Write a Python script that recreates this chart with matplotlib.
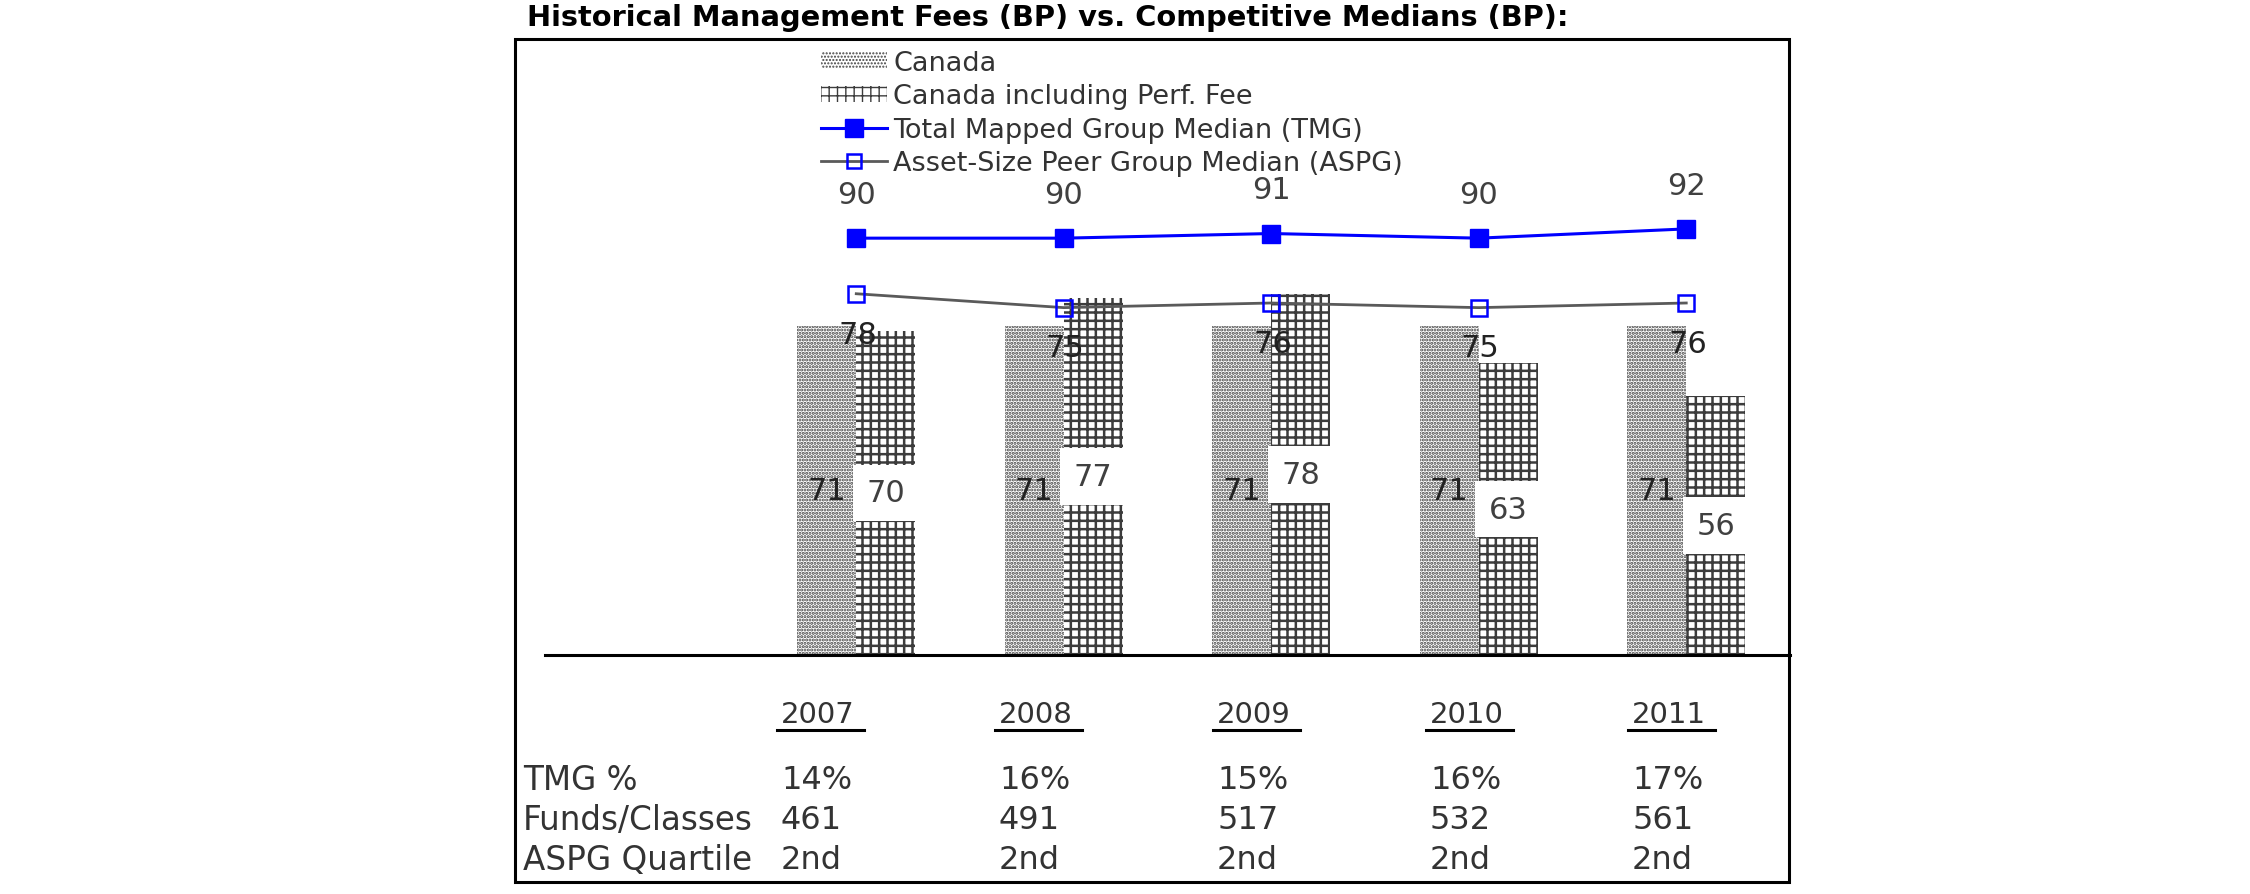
import matplotlib
matplotlib.use("Agg")
import matplotlib.pyplot as plt
from matplotlib.lines import Line2D
from matplotlib.patches import Rectangle, Patch
import numpy as np

# ---------------- data ----------------
years = ["2007", "2008", "2009", "2010", "2011"]
canada = [71, 71, 71, 71, 71]
canada_perf = [70, 77, 78, 63, 56]
tmg_median = [90, 90, 91, 90, 92]
aspg_median = [78, 75, 76, 75, 76]
row_labels = ["TMG %", "Funds/Classes", "ASPG Quartile"]
tmg_pct = ["14%", "16%", "15%", "16%", "17%"]
funds_classes = ["461", "491", "517", "532", "561"]
aspg_quartile = ["2nd", "2nd", "2nd", "2nd", "2nd"]
title = "Historical Management Fees (BP) vs. Competitive Medians (BP):"
legend_labels = ["Canada", "Canada including Perf. Fee",
                 "Total Mapped Group Median (TMG)",
                 "Asset-Size Peer Group Median (ASPG)"]

# ---------------- layout ----------------
W, H = 2250, 895
fig = plt.figure(figsize=(W / 100, H / 100), dpi=100)
fig.patch.set_facecolor("white")

def fx(px):
    return px / W

def fy(py):
    return 1 - py / H

FONT = "DejaVu Sans"
TXT = "#333333"

# outer box
fig.patches.append(Rectangle((fx(515), fy(883)), fx(1789) - fx(515), fy(40) - fy(883),
                             transform=fig.transFigure, fill=False,
                             edgecolor="black", linewidth=2.2, zorder=0))

# title
fig.text(fx(527), fy(18), title, fontsize=20.8, fontweight="bold",
         family=FONT, color="black", ha="left", va="center")

ax = fig.add_axes([fx(545), fy(656), fx(1790) - fx(545), fy(40) - fy(656)])
ax.set_xlim(-1.5, 4.5)
ax.set_ylim(0, 133)
ax.set_facecolor("none")
for s in ["top", "left", "right"]:
    ax.spines[s].set_visible(False)
ax.spines["bottom"].set_linewidth(2.2)
ax.spines["bottom"].set_color("black")
ax.set_xticks([])
ax.set_yticks([])

x = np.arange(len(years))
w = 0.285

DOT_HATCH, DOT_COL, DOT_LW = ".....", "#404040", 1.5
GRID_HATCH, GRID_COL, GRID_LW = "++", "#3c3c3c", 1.8

def make_bars(xpos, vals, hatch, hcolor, hlw):
    with plt.rc_context({"hatch.linewidth": hlw}):
        bars = ax.bar(xpos, vals, width=w, facecolor="white", edgecolor=hcolor,
                      linewidth=0, hatch=hatch, zorder=2)
    for b in bars:
        if hasattr(b, "set_hatch_linewidth"):
            b.set_hatch_linewidth(hlw)
    return bars

b1 = make_bars(x - w / 2, canada, DOT_HATCH, DOT_COL, DOT_LW)
b2 = make_bars(x + w / 2, canada_perf, GRID_HATCH, GRID_COL, GRID_LW)

ax.plot(x, tmg_median, color="#0000ff", linewidth=2.2, marker="s",
        markersize=13.5, markerfacecolor="#0000ff", markeredgecolor="#0000ff", zorder=4)
ax.plot(x, aspg_median, color="#5a5a5a", linewidth=2.0, marker="s",
        markersize=12, markerfacecolor="none", markeredgecolor="#0000ff",
        markeredgewidth=1.8, zorder=4)

LBL = 22
for i in range(len(years)):
    ax.annotate(str(tmg_median[i]), (x[i], tmg_median[i]), xytext=(0, 31.5),
                textcoords="offset points", ha="center", va="center",
                fontsize=LBL, color="#404040", family=FONT, zorder=5)
    ax.annotate(str(aspg_median[i]), (x[i], aspg_median[i]), xytext=(1, -29),
                textcoords="offset points", ha="center", va="center",
                fontsize=LBL, color="#222222", family=FONT, zorder=5)
    ax.text(x[i] - w / 2, canada[i] / 2, str(canada[i]), ha="center", va="center",
            fontsize=LBL, color="#222222", family=FONT, zorder=5)
    ax.text(x[i] + w / 2, canada_perf[i] / 2, str(canada_perf[i]), ha="center",
            va="center", fontsize=LBL, color="#404040", family=FONT, zorder=5,
            bbox=dict(facecolor="white", edgecolor="none", pad=10))

# legend
with plt.rc_context({"hatch.linewidth": DOT_LW}):
    h1 = Patch(facecolor="white", edgecolor=DOT_COL, hatch=DOT_HATCH, linewidth=0)
with plt.rc_context({"hatch.linewidth": GRID_LW}):
    h2 = Patch(facecolor="white", edgecolor=GRID_COL, hatch=GRID_HATCH, linewidth=0)
for hp, lw_ in ((h1, DOT_LW), (h2, GRID_LW)):
    if hasattr(hp, "set_hatch_linewidth"):
        hp.set_hatch_linewidth(lw_)
handles = [
    h1, h2,
    Line2D([], [], color="#0000ff", linewidth=2.2, marker="s", markersize=13,
           markerfacecolor="#0000ff", markeredgecolor="#0000ff"),
    Line2D([], [], color="#5a5a5a", linewidth=2.0, marker="s", markersize=10,
           markerfacecolor="none", markeredgecolor="#0000ff", markeredgewidth=1.8),
]
leg = fig.legend(handles, legend_labels, loc="upper left",
                 bbox_to_anchor=(fx(821), fy(51)), bbox_transform=fig.transFigure,
                 frameon=False, borderpad=0, borderaxespad=0,
                 handlelength=2.45, handleheight=0.55, handletextpad=0.22,
                 labelspacing=0.27, prop={"family": FONT, "size": 19.5})
for t in leg.get_texts():
    t.set_color(TXT)

# table below chart
col_left = [781, 999, 1217, 1430, 1632]
renderer = fig.canvas.get_renderer()
for i, yr in enumerate(years):
    t = fig.text(fx(col_left[i]), fy(715), yr, fontsize=21, family=FONT,
                 color=TXT, ha="left", va="center")
    bb = t.get_window_extent(renderer=renderer)
    fig.lines.append(Line2D([fx(bb.x0 - 4), fx(bb.x1 + 9)], [fy(731), fy(731)],
                            transform=fig.transFigure, color="black", linewidth=2.2))

row_y = [781, 821, 861]
rows = [tmg_pct, funds_classes, aspg_quartile]
for r, lab in enumerate(row_labels):
    fig.text(fx(523), fy(row_y[r]), lab, fontsize=23.5, family=FONT, color=TXT,
             ha="left", va="center")
    for i in range(len(years)):
        fig.text(fx(col_left[i]), fy(row_y[r]), rows[r][i], fontsize=23,
                 family=FONT, color=TXT, ha="left", va="center")

fig.savefig("out.png", dpi=100, facecolor="white")
